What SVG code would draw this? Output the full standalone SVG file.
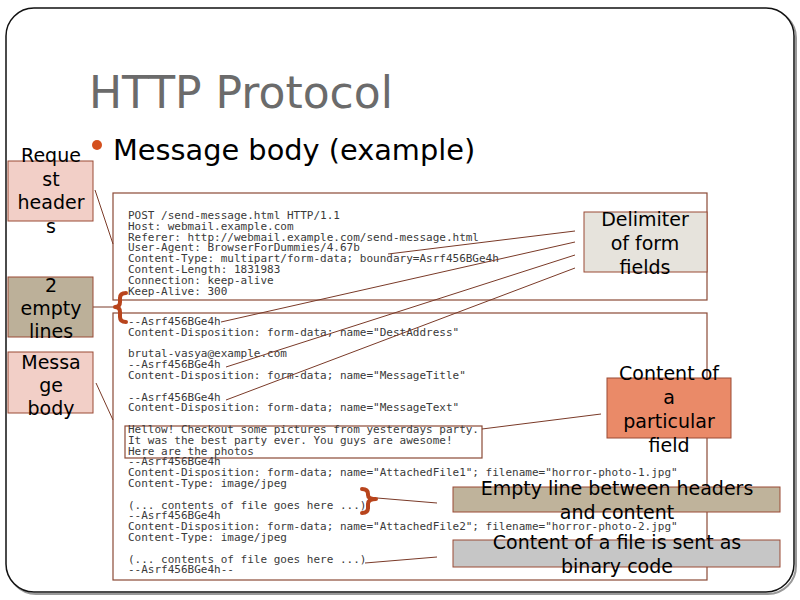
<svg xmlns="http://www.w3.org/2000/svg" width="800" height="600" viewBox="0 0 800 600">
<defs>
<style>
.lbl{font-family:"DejaVu Sans","Liberation Sans",sans-serif;font-size:19px;fill:#000;text-anchor:middle}
.code{font-family:"DejaVu Sans Mono","Liberation Mono",monospace;font-size:11px;fill:#3a3a3a}
.box{stroke:#9a4a34;stroke-width:1}
.cbox{fill:#fff;stroke:#8b4a36;stroke-width:1.2}
.ln{stroke:#7a3a28;stroke-width:1;fill:none}
.brace{stroke:#b8441c;stroke-width:4;fill:none;stroke-linejoin:round;stroke-linecap:round}
</style>
</defs>
<rect width="800" height="600" fill="#fff"/>
<rect x="8" y="10" width="788" height="584" rx="28" fill="none" stroke="#999" stroke-width="2"/>
<rect x="6" y="8" width="788" height="584" rx="28" fill="#fff" stroke="#111" stroke-width="1.5"/>

<g id="title">
<text x="89" y="108" font-family="DejaVu Sans,Liberation Sans,sans-serif" font-size="44" fill="#6b6b6b">HTTP Protocol</text>
<circle cx="97" cy="145" r="5" fill="#d4501e"/>
<text x="113" y="160" font-family="DejaVu Sans,Liberation Sans,sans-serif" font-size="28.8" fill="#000">Message body (example)</text>
</g>

<g id="header-box">
<rect class="cbox" x="113" y="193" width="594" height="107"/>
<text class="code" x="128" y="219">POST /send-message.html HTTP/1.1</text>
<text class="code" x="128" y="229.8">Host: webmail.example.com</text>
<text class="code" x="128" y="240.6">Referer: http://webmail.example.com/send-message.html</text>
<text class="code" x="128" y="251.4">User-Agent: BrowserForDummies/4.67b</text>
<text class="code" x="128" y="262.2">Content-Type: multipart/form-data; boundary=Asrf456BGe4h</text>
<text class="code" x="128" y="273">Content-Length: 1831983</text>
<text class="code" x="128" y="283.8">Connection: keep-alive</text>
<text class="code" x="128" y="294.6">Keep-Alive: 300</text>
</g>

<g id="body-box">
<rect class="cbox" x="113" y="313" width="594" height="267"/>
<rect x="125" y="426" width="357" height="32" fill="none" stroke="#8b4a36" stroke-width="1.2"/>
<text class="code" x="128" y="325">--Asrf456BGe4h</text>
<text class="code" x="128" y="335.8">Content-Disposition: form-data; name="DestAddress"</text>
<text class="code" x="128" y="357.4">brutal-vasya@example.com</text>
<text class="code" x="128" y="368.2">--Asrf456BGe4h</text>
<text class="code" x="128" y="379">Content-Disposition: form-data; name="MessageTitle"</text>
<text class="code" x="128" y="400.6">--Asrf456BGe4h</text>
<text class="code" x="128" y="411.4">Content-Disposition: form-data; name="MessageText"</text>
<text class="code" x="128" y="433">Hellow! Checkout some pictures from yesterdays party.</text>
<text class="code" x="128" y="443.8">It was the best party ever. You guys are awesome!</text>
<text class="code" x="128" y="454.6">Here are the photos</text>
<text class="code" x="128" y="465.4">--Asrf456BGe4h</text>
<text class="code" x="128" y="476.2">Content-Disposition: form-data; name="AttachedFile1"; filename="horror-photo-1.jpg"</text>
<text class="code" x="128" y="487">Content-Type: image/jpeg</text>
<text class="code" x="128" y="508.6">(... contents of file goes here ...)</text>
<text class="code" x="128" y="519.4">--Asrf456BGe4h</text>
<text class="code" x="128" y="530.2">Content-Disposition: form-data; name="AttachedFile2"; filename="horror-photo-2.jpg"</text>
<text class="code" x="128" y="541">Content-Type: image/jpeg</text>
<text class="code" x="128" y="562.6">(... contents of file goes here ...)</text>
<text class="code" x="128" y="573.4">--Asrf456BGe4h--</text>
</g>

<g id="connectors">
<line class="ln" x1="95" y1="190" x2="113" y2="244"/>
<line class="ln" x1="93" y1="307" x2="116" y2="307"/>
<line class="ln" x1="96" y1="383" x2="113" y2="420"/>
<line class="ln" x1="575" y1="231" x2="388" y2="254"/>
<line class="ln" x1="575" y1="242" x2="221" y2="322"/>
<line class="ln" x1="575" y1="255" x2="226" y2="367"/>
<line class="ln" x1="575" y1="268" x2="226" y2="400"/>
<line class="ln" x1="482" y1="429" x2="601" y2="414"/>
<line class="ln" x1="377" y1="498" x2="437" y2="503"/>
<line class="ln" x1="365" y1="563" x2="437" y2="557"/>
<path class="brace" d="M126,293 Q120,293 120,298 L120,302 Q120,307 115,307 Q120,307 120,312 L120,317 Q120,322 126,322"/>
<path class="brace" d="M362,489 Q368,489 368,494 L368,495 Q368,499 376,499 Q368,499 368,504 L368,508 Q368,513 362,513"/>
</g>

<g id="request-headers">
<rect class="box" x="8" y="161" width="85" height="60" fill="#f2cfc7"/>
<text class="lbl" x="51" y="162">Reque</text>
<text class="lbl" x="51" y="186">st</text>
<text class="lbl" x="51" y="209">header</text>
<text class="lbl" x="51" y="233">s</text>
</g>

<g id="empty-lines">
<rect class="box" x="8" y="277" width="85" height="60" fill="#bcb099"/>
<text class="lbl" x="51" y="292">2</text>
<text class="lbl" x="51" y="315">empty</text>
<text class="lbl" x="51" y="338">lines</text>
</g>

<g id="message-body">
<rect class="box" x="8" y="352" width="85" height="61" fill="#f2cfc7"/>
<text class="lbl" x="51" y="369">Messa</text>
<text class="lbl" x="51" y="392">ge</text>
<text class="lbl" x="51" y="415">body</text>
</g>

<g id="delimiter">
<rect class="box" x="584" y="212" width="123" height="60" fill="#e6e3dc"/>
<text class="lbl" x="645" y="226">Delimiter</text>
<text class="lbl" x="645" y="250">of form</text>
<text class="lbl" x="645" y="274">fields</text>
</g>

<g id="field-content">
<rect class="box" x="607" y="378" width="124" height="60" fill="#ea8a68"/>
<text class="lbl" x="669" y="380">Content of</text>
<text class="lbl" x="669" y="404">a</text>
<text class="lbl" x="669" y="428">particular</text>
<text class="lbl" x="669" y="452">field</text>
</g>

<g id="empty-line-note">
<rect class="box" x="453" y="487" width="327" height="25" fill="#bfb39b"/>
<text class="lbl" x="617" y="495">Empty line between headers</text>
<text class="lbl" x="617" y="519">and content</text>
</g>

<g id="binary-note">
<rect class="box" x="453" y="540" width="327" height="27" fill="#c6c6c6"/>
<text class="lbl" x="617" y="549">Content of a file is sent as</text>
<text class="lbl" x="617" y="573">binary code</text>
</g>
</svg>
